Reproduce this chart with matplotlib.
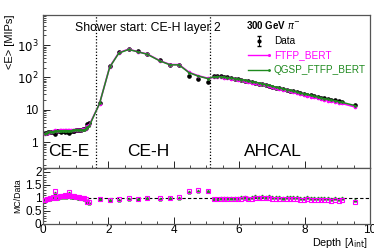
import matplotlib
matplotlib.use("Agg")
import matplotlib.pyplot as plt
import numpy as np

# depth of each layer [lambda_int]
depth_cee = [0.06, 0.11, 0.16, 0.21, 0.26, 0.31, 0.36, 0.41, 0.46, 0.51, 0.56, 0.61, 0.66, 0.71,
             0.76, 0.81, 0.86, 0.91, 0.96, 1.01, 1.06, 1.11, 1.16, 1.21, 1.26, 1.31, 1.36, 1.41]
depth_ceh = [1.73, 2.04, 2.32, 2.62, 2.90, 3.19, 3.58, 3.89, 4.16, 4.47, 4.75, 5.05]
depth_ahcal = [5.22, 5.33, 5.43, 5.54, 5.64, 5.75, 5.86, 5.96, 6.07, 6.17, 6.28, 6.39, 6.49, 6.60,
               6.70, 6.81, 6.92, 7.02, 7.13, 7.23, 7.34, 7.45, 7.55, 7.66, 7.76, 7.87, 7.98, 8.08,
               8.19, 8.29, 8.40, 8.51, 8.61, 8.72, 8.82, 8.93, 9.04, 9.14, 9.55]

# <E> in MIPs
data_cee = [1.95, 2.0, 2.05, 2.1, 2.1, 2.15, 1.85, 2.2, 2.2, 2.2, 2.15, 2.2, 2.15, 2.2,
            2.1, 1.9, 2.2, 2.3, 2.3, 2.35, 2.4, 2.4, 2.45, 2.5, 2.6, 2.8, 3.7, 3.9]
ftfp_cee = [1.79, 1.90, 1.99, 2.06, 2.10, 2.19, 2.31, 2.20, 2.27, 2.31, 2.32, 2.31, 2.37, 2.33,
            2.31, 2.32, 2.31, 2.42, 2.44, 2.44, 2.47, 2.45, 2.45, 2.50, 2.55, 2.66, 3.15, 3.32]
qgsp_cee = [1.85, 1.92, 2.01, 2.04, 2.10, 2.15, 2.22, 2.16, 2.20, 2.24, 2.26, 2.27, 2.28, 2.29,
            2.27, 2.24, 2.24, 2.37, 2.37, 2.40, 2.40, 2.40, 2.40, 2.43, 2.47, 2.58, 3.03, 3.12]

data_ceh = [16.6, 230, 610, 760, 640, 530, 335, 250, 245, 115, 87, 74]
ftfp_ceh = [15.6, 212, 580, 745, 621, 530, 328, 250, 250, 144, 113, 94]
qgsp_ceh = [15.8, 207, 567, 730, 621, 519, 322, 245, 245, 140, 110, 92]

data_ahcal = [108, 110, 108, 104, 100, 96, 92, 88, 84, 80, 76, 72, 68, 65, 61, 58, 55, 52, 49,
              46.5, 44, 41.5, 39, 37, 35, 33, 31, 29.5, 28, 26.5, 25, 23.5, 22.5, 21.5, 20.5,
              19.5, 18.5, 17.5, 14.5]
ftfp_ahcal = [101.5, 104.5, 102.6, 98.8, 95.0, 91.2, 88.3, 84.5, 81.5, 78.4, 73.0, 69.8, 66.6,
              64.4, 61.0, 56.8, 54.5, 50.4, 47.0, 45.1, 41.8, 39.8, 37.1, 34.8, 33.3, 30.7, 28.8,
              27.7, 25.8, 24.1, 23.0, 21.2, 20.5, 19.4, 18.2, 17.6, 16.5, 15.8, 12.3]
qgsp_ahcal = [104.8, 106.7, 105.8, 101.9, 99.0, 95.0, 92.0, 88.9, 85.7, 82.4, 76.8, 73.4, 71.4,
              67.6, 64.1, 60.3, 57.8, 53.6, 50.0, 47.9, 44.4, 42.3, 40.2, 37.4, 35.7, 33.0, 31.3,
              30.1, 28.0, 26.2, 25.0, 23.0, 22.3, 21.1, 19.9, 19.1, 17.9, 17.2, 13.5]

boundaries = [1.63, 5.1]
regions = ["CE-E", "CE-H", "AHCAL"]

MAGENTA = "#ff00ff"
GREEN = "#1f8a1f"

plt.rcParams["font.family"] = ["Liberation Sans", "DejaVu Sans"]
plt.rcParams["axes.edgecolor"] = "#555555"
plt.rcParams["axes.linewidth"] = 0.9

x = np.concatenate([depth_cee, depth_ceh, depth_ahcal])
data = np.concatenate([data_cee, data_ceh, data_ahcal])
ftfp = np.concatenate([ftfp_cee, ftfp_ceh, ftfp_ahcal])
qgsp = np.concatenate([qgsp_cee, qgsp_ceh, qgsp_ahcal])
err = data * 0.02

fig = plt.figure(figsize=(3.74, 2.49), dpi=100)
ax = fig.add_axes([0.115, 0.325, 0.874, 0.615])
axr = fig.add_axes([0.115, 0.102, 0.874, 0.223])

ax.plot(x, ftfp, color=MAGENTA, lw=1.2, marker="o", ms=1.6, zorder=3)
ax.plot(x, qgsp, color=GREEN, lw=1.1, marker="o", ms=1.0, zorder=4)
ax.errorbar(x, data, yerr=err, fmt="o", color="black", ms=2.3, lw=0.6, zorder=2)

for b in boundaries:
    ax.axvline(b, color="black", ls=(0, (1, 1.5)), lw=0.9)

ax.set_yscale("log")
ax.set_xlim(0, 10)
ax.set_ylim(0.16, 8500)
ax.set_yticks([1, 10, 100, 1000])
ax.set_yticklabels(["1", "10", "$10^2$", "$10^3$"])
ax.set_xticks(np.arange(0, 11, 2))
ax.set_xticks(np.arange(0, 10.01, 0.5), minor=True)
ax.tick_params(axis="x", labelbottom=False)
ax.tick_params(which="both", direction="in", right=False, top=False, labelsize=8.5)
ax.tick_params(which="major", length=5, width=0.6)
ax.tick_params(which="minor", length=2.5, width=0.5)
ax.set_ylabel("<E> [MIPs]", fontsize=8, loc="top", labelpad=1)

xt = ax.get_xaxis_transform()
ax.text(0.15, 0.11, regions[0], fontsize=12.5, va="center", transform=xt)
ax.text(3.21, 0.11, regions[1], fontsize=12.5, va="center", ha="center", transform=xt)
ax.text(7.03, 0.11, regions[2], fontsize=12.5, va="center", ha="center", transform=xt)
ax.text(0.098, 0.915, "Shower start: CE-H layer 2", fontsize=8.8, va="center",
        transform=ax.transAxes)

# legend drawn by hand, ROOT style
ax.text(0.62, 0.935, "300 GeV $\\pi^{-}$", fontsize=7, fontweight="bold", va="center",
        transform=ax.transAxes)
ax.errorbar([0.66], [0.83], yerr=[0.035], fmt="o", color="black", ms=2, lw=0.7, capsize=1.5,
            transform=ax.transAxes)
ax.text(0.706, 0.83, "Data", fontsize=7.2, va="center", transform=ax.transAxes)
ax.plot([0.627, 0.691], [0.739, 0.739], color=MAGENTA, lw=1.0, marker="o", ms=1.2,
        markevery=[1], transform=ax.transAxes)
ax.text(0.706, 0.739, "FTFP_BERT", fontsize=7.2, va="center", color=MAGENTA,
        transform=ax.transAxes)
ax.plot([0.627, 0.691], [0.64, 0.64], color=GREEN, lw=1.0, marker="o", ms=1.0,
        markevery=[1], transform=ax.transAxes)
ax.text(0.706, 0.64, "QGSP_FTFP_BERT", fontsize=7.2, va="center", color=GREEN,
        transform=ax.transAxes)

# ratio panel
axr.axhline(1.0, color="black", ls=(0, (3, 2)), lw=0.8)
axr.plot(x, ftfp / data, ls="none", marker="s", ms=2.2, mfc="none", mec=MAGENTA, mew=0.8, zorder=3)
axr.plot(x, qgsp / data, ls="none", marker="^", ms=2.0, color=GREEN, zorder=2)
axr.set_xlim(0, 10)
axr.set_ylim(0, 2.15)
axr.set_yticks([0, 0.5, 1, 1.5, 2])
axr.set_yticklabels(["0", "0.5", "1", "1.5", "2"])
axr.set_yticks(np.arange(0, 2.15, 0.1), minor=True)
axr.set_xticks(np.arange(0, 11, 2))
axr.set_xticks(np.arange(0, 10.01, 0.5), minor=True)
axr.tick_params(which="both", direction="in", right=False, top=False, labelsize=8.5, pad=1)
axr.tick_params(axis="x", pad=0.5)
axr.tick_params(which="major", length=5, width=0.6)
axr.tick_params(which="minor", length=2.5, width=0.5)
axr.set_ylabel("MC/Data", fontsize=6.3, labelpad=2)
fig.text(368 / 374, 1 - 242.5 / 249, "Depth [$\\lambda_{\\mathrm{int}}$]", fontsize=7.8,
         ha="right", va="center")

fig.savefig("out.png", dpi=100)
